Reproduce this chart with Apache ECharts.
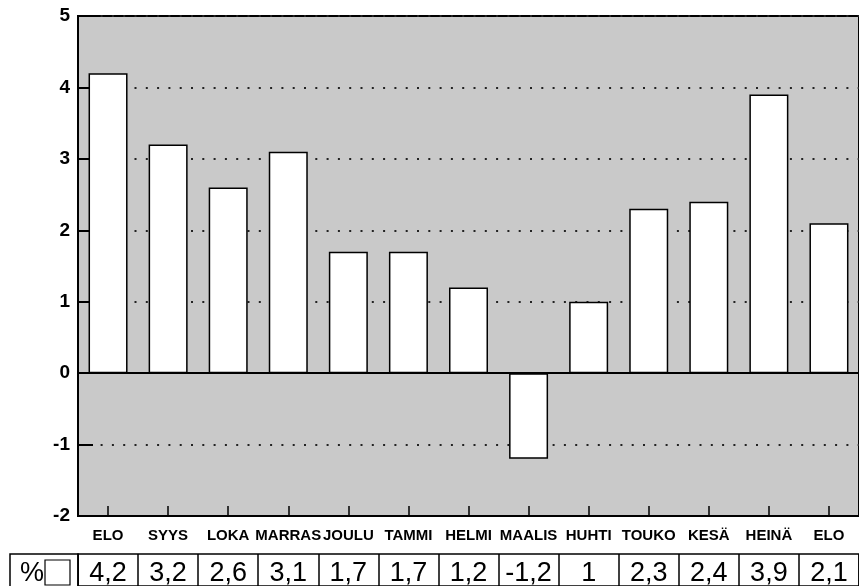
<!DOCTYPE html>
<html>
<head>
<meta charset="utf-8">
<script src="https://cdn.jsdelivr.net/npm/echarts@6/dist/echarts.min.js"></script>
<style>
html,body{margin:0;padding:0;background:#fff;}
#chart{width:859px;height:586px;}
</style>
</head>
<body>
<div id="chart"></div>
<script>
const categories = ['ELO','SYYS','LOKA','MARRAS','JOULU','TAMMI','HELMI','MAALIS','HUHTI','TOUKO','KESÄ','HEINÄ','ELO'];
const values = [4.2, 3.2, 2.6, 3.1, 1.7, 1.7, 1.2, -1.2, 1, 2.3, 2.4, 3.9, 2.1];
const yTicks = {min: -2, max: 5, interval: 1};
const tableLabel = '%';

const FONT = "'Liberation Sans', Arial, Helvetica, sans-serif";
const tableText = values.map(v => String(v).replace('.', ','));

const chart = echarts.init(document.getElementById('chart'), null, {renderer: 'canvas'});
chart.setOption({
  animation: false,
  backgroundColor: '#ffffff',
  grid: [
    {left: 78, right: -10, top: 16, bottom: 70, show: true, backgroundColor: '#c9c9c9', borderColor: '#000', borderWidth: 2},
    {left: 78, right: -10, top: 554, bottom: -40, show: true, backgroundColor: 'transparent', borderColor: '#000', borderWidth: 1.5}
  ],
  xAxis: [
    {
      type: 'category', gridIndex: 0, data: categories, position: 'bottom',
      axisLine: {onZero: false, lineStyle: {color: '#000', width: 2}},
      axisTick: {show: true, inside: true, length: 10, alignWithLabel: true, lineStyle: {color: '#000', width: 1.5}},
      axisLabel: {interval: 0, margin: 12, color: '#000', fontFamily: FONT, fontWeight: 'bold', fontSize: 15},
      splitLine: {show: false}
    },
    {
      type: 'category', gridIndex: 1, data: tableText, position: 'top',
      axisLine: {show: false},
      axisTick: {show: false},
      axisLabel: {interval: 0, inside: true, margin: 6, color: '#000', fontFamily: FONT, fontSize: 27},
      splitLine: {show: true, interval: 0, lineStyle: {color: '#000', width: 1.5}}
    }
  ],
  yAxis: [
    {
      type: 'value', gridIndex: 0, min: yTicks.min, max: yTicks.max, interval: yTicks.interval,
      axisLine: {show: true, lineStyle: {color: '#000', width: 2}},
      axisTick: {show: true, inside: true, length: 15, lineStyle: {color: '#000', width: 2}},
      axisLabel: {margin: 8, color: '#000', fontFamily: FONT, fontWeight: 'bold', fontSize: 19},
      splitLine: {show: true, lineStyle: {color: '#222', width: 2, type: [2, 9.3]}}
    },
    {type: 'value', gridIndex: 1, show: false, min: 0, max: 1}
  ],
  graphic: [
    {type: 'rect', shape: {x: 10, y: 554, width: 68, height: 60}, style: {fill: '#fff', stroke: '#000', lineWidth: 1.5}},
    {type: 'text', x: 20, y: 560, style: {text: tableLabel, font: "27px " + FONT, fill: '#000'}},
    {type: 'rect', shape: {x: 45, y: 560, width: 25, height: 25}, style: {fill: '#fff', stroke: '#000', lineWidth: 1.2}}
  ],
  series: [
    {
      type: 'bar', xAxisIndex: 0, yAxisIndex: 0, data: values, barWidth: 39,
      itemStyle: {color: '#fff', borderColor: '#000', borderWidth: 1.5},
      markLine: {
        silent: true, symbol: 'none', label: {show: false},
        lineStyle: {color: '#000', type: 'solid', width: 2},
        data: [{yAxis: 0}]
      }
    }
  ]
});
</script>
</body>
</html>
